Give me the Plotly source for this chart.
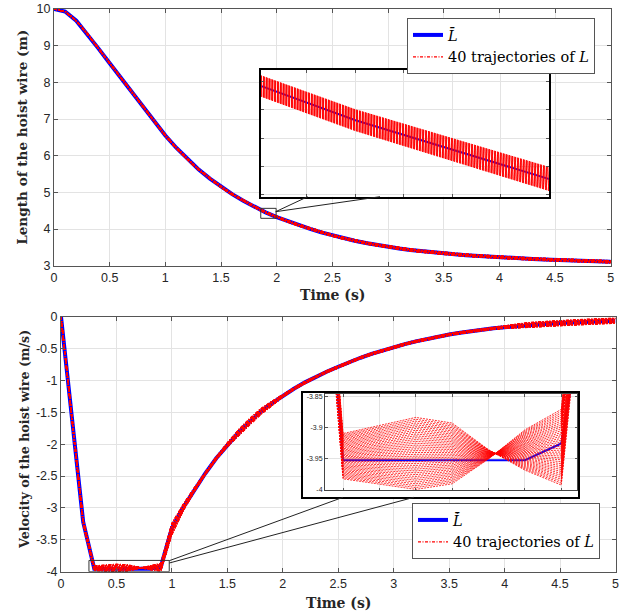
import numpy as np
import plotly.graph_objects as go

W, H = 638, 611

# ---------------- data ----------------
time_s = np.round(np.arange(51) * 0.1, 1)  # sampling instants 0 .. 5 s

# mean hoist-wire length  L-bar (m)
L_mean = [10.00, 9.93, 9.68, 9.32, 8.92, 8.52, 8.13, 7.73, 7.34, 6.94,
          6.55, 6.21, 5.90, 5.62, 5.375, 5.15, 4.95, 4.77, 4.61, 4.455,
          4.325, 4.21, 4.105, 4.005, 3.91, 3.825, 3.75, 3.68, 3.62, 3.565,
          3.515, 3.47, 3.43, 3.395, 3.363, 3.335, 3.31, 3.287, 3.266, 3.246,
          3.228, 3.212, 3.197, 3.183, 3.17, 3.158, 3.147, 3.136, 3.126, 3.117,
          3.108]
# half width of the band formed by the 40 trajectories of L (m)
L_spread = [0.0, 0.002, 0.004, 0.006, 0.008, 0.009, 0.010, 0.011, 0.012, 0.013,
            0.014, 0.0145, 0.015, 0.0155, 0.016, 0.0165, 0.017, 0.0172, 0.0175, 0.0185,
            0.021, 0.022, 0.023, 0.024, 0.025, 0.025, 0.026, 0.026, 0.027, 0.027,
            0.028, 0.028, 0.028, 0.029, 0.029, 0.029, 0.030, 0.030, 0.030, 0.030,
            0.030, 0.030, 0.030, 0.030, 0.030, 0.030, 0.030, 0.030, 0.030, 0.030,
            0.030]

# mean hoist-wire velocity  Ldot-bar (m/s)
Ldot_mean = [0.0, -1.62, -3.22, -3.952, -3.952, -3.952, -3.952, -3.952, -3.952, -3.925,
             -3.32, -3.00, -2.72, -2.46, -2.22, -2.01, -1.82, -1.65, -1.49, -1.36,
             -1.24, -1.13, -1.03, -0.94, -0.86, -0.785, -0.711, -0.644, -0.584, -0.529,
             -0.48, -0.431, -0.387, -0.348, -0.312, -0.28, -0.252, -0.226, -0.203, -0.182,
             -0.164, -0.148, -0.134, -0.121, -0.11, -0.10, -0.091, -0.083, -0.076, -0.069,
             -0.063]
# deviation of the first and of the last of the 40 velocity trajectories from the mean
Ldot_dev_first = ([0.0, 0.02, 0.03, 0.043, 0.056, 0.069, 0.060, 0.017, -0.016, -0.067,
                   -0.10, -0.05, -0.03, -0.02, -0.02, -0.03, -0.045, -0.05, -0.045, -0.03,
                   -0.02] + [-0.015] * 19 + [-0.02, -0.03] + [-0.04] * 9)
Ldot_dev_last = ([0.0, -0.02, -0.04, -0.030, -0.038, -0.047, -0.038, 0.002, 0.049, 0.055,
                  0.08, 0.05, 0.03, 0.02, 0.02, 0.03, 0.045, 0.05, 0.045, 0.03,
                  0.02] + [0.015] * 19 + [0.02, 0.03] + [0.04] * 9)
N_TRAJ = 40

x_tickvals = [0, 0.5, 1, 1.5, 2, 2.5, 3, 3.5, 4, 4.5, 5]
x_ticktext = ["0", "0.5", "1", "1.5", "2", "2.5", "3", "3.5", "4", "4.5", "5"]
L_tickvals = [3, 4, 5, 6, 7, 8, 9, 10]
L_ticktext = ["3", "4", "5", "6", "7", "8", "9", "10"]
Ldot_tickvals = [0, -0.5, -1, -1.5, -2, -2.5, -3, -3.5, -4]
Ldot_ticktext = ["0", "-0.5", "-1", "-1.5", "-2", "-2.5", "-3", "-3.5", "-4"]
inset_Ldot_tickvals = [-3.85, -3.9, -3.95, -4]
inset_Ldot_ticktext = ["-3.85", "-3.9", "-3.95", "-4"]
inset_t_tickvals = [0.3, 0.4, 0.5, 0.6, 0.7, 0.8, 0.9]

# zoom windows
TOP_RECT = dict(x0=1.857, x1=1.995, y0=4.292, y1=4.564)
BOT_RECT = dict(x0=0.252, x1=0.976, y0=-4.0, y1=-3.823)
TOP_INSET_X = [1.861, 1.980]
TOP_INSET_Y = [4.3196, 4.5438]
TOP_INSET_YTICK0 = 4.5231
TOP_INSET_SAMPLES = slice(18, 21)   # samples t = 1.8 .. 2.0 feed the upper inset
BOT_INSET_X = [0.2505, 0.944]
BOT_INSET_Y = [-4.0, -3.8457]

# ---------------- derived trajectories ----------------
t = np.asarray(time_s)
w = np.arange(N_TRAJ) / (N_TRAJ - 1)
Lm = np.asarray(L_mean)
Ls = np.asarray(L_spread)
L_trajs = [Lm + Ls * (2 * wk - 1) for wk in w]
Vm = np.asarray(Ldot_mean)
dA = np.asarray(Ldot_dev_first)
dB = np.asarray(Ldot_dev_last)
V_trajs = [Vm + dA + (dB - dA) * wk for wk in w]

# ---------------- styles / geometry (pixels) ----------------
BLUE = "#0000ff"
RED = "#ff0000"
AXIS_COLOR = "#555555"
GRID_COLOR = "#e3e3e3"
TICK_FONT = dict(family="Liberation Sans, Arial, sans-serif", size=12.5, color="#262626")
SERIF = "DejaVu Serif, serif"


def dom_x(a, b):
    return [a / W, b / W]


def dom_y(a, b):
    return [1 - b / H, 1 - a / H]


def px(xp, yp):
    return xp / W, 1 - yp / H


GEOM = dict(
    top=((54, 610.7), (9, 265.7)),
    bot=((61, 615.5), (316.7, 571.7)),
    inset_top=((261, 549), (70, 196.7)),
    inset_frame=((303.3, 578.3), (393.3, 497.3)),
    inset_bot=((325, 577.3), (394.3, 490)),
)

fig = go.Figure()


def add_group(xa, ya, tt, mean, trajs, mean_name, traj_name, legend, mean_w, traj_w, dash, show):
    fig.add_trace(go.Scatter(x=tt, y=mean, mode="lines", name=mean_name,
                             line=dict(color=BLUE, width=mean_w),
                             xaxis=xa, yaxis=ya, legend=legend, showlegend=show,
                             hoverinfo="skip"))
    for k, tr in enumerate(trajs):
        fig.add_trace(go.Scatter(x=tt, y=tr, mode="lines", name=traj_name,
                                 line=dict(color=RED, width=traj_w, dash=dash),
                                 xaxis=xa, yaxis=ya, legend=legend,
                                 showlegend=(show and k == 0), hoverinfo="skip"))


MAIN_DASH = "3px,1.5px,1px,1.5px"
add_group("x", "y", t, Lm, L_trajs, "<i>L\u0304</i>", "40 trajectories of <i>L</i>",
          "legend", 4, 1.3, MAIN_DASH, True)
add_group("x2", "y2", t, Vm, V_trajs, "<i>L\u0307\u0304</i>", "40 trajectories of <i>L\u0307</i>",
          "legend2", 4, 1.3, MAIN_DASH, True)
s = TOP_INSET_SAMPLES
add_group("x3", "y3", t[s], Lm[s], [tr[s] for tr in L_trajs], "", "", "legend",
          2, 1, "2px,1px", False)
# frame subplot for the lower inset (white box with black border)
fig.add_trace(go.Scatter(x=[None], y=[None], xaxis="x4", yaxis="y4", showlegend=False,
                         hoverinfo="skip"))
add_group("x5", "y5", t, Vm, V_trajs, "", "", "legend2", 2, 0.8, "2px,1px", False)


def main_axis(domain, rng, tickvals, ticktext, anchor):
    return dict(domain=domain, range=rng, anchor=anchor, tickmode="array",
                tickvals=tickvals, ticktext=ticktext, ticks="inside", ticklen=4,
                tickcolor=AXIS_COLOR, tickwidth=1, showline=True, linecolor=AXIS_COLOR,
                linewidth=1, mirror="ticks", showgrid=True, gridcolor=GRID_COLOR,
                gridwidth=1, zeroline=False, tickfont=TICK_FONT, fixedrange=True,
                automargin=False)


(tx, ty) = GEOM["top"]
(bx, by) = GEOM["bot"]
(itx, ity) = GEOM["inset_top"]
(ifx, ify) = GEOM["inset_frame"]
(ibx, iby) = GEOM["inset_bot"]

LEGEND_FONT = dict(family=SERIF, size=14.5, color="black")
layout = dict(
    width=W, height=H, margin=dict(l=0, r=0, t=0, b=0, pad=0, autoexpand=False),
    autosize=False,
    paper_bgcolor="white", plot_bgcolor="white", hovermode=False,
    xaxis=main_axis(dom_x(*tx), [0, 5], x_tickvals, x_ticktext, "y"),
    yaxis=main_axis(dom_y(*ty), [3, 10], L_tickvals, L_ticktext, "x"),
    xaxis2=main_axis(dom_x(*bx), [0, 5], x_tickvals, x_ticktext, "y2"),
    yaxis2=main_axis(dom_y(*by), [-4, 0], Ldot_tickvals, Ldot_ticktext, "x2"),
    xaxis3=dict(domain=dom_x(*itx), range=TOP_INSET_X, anchor="y3", dtick=0.02, tick0=0,
                ticks="inside", ticklen=3, tickcolor=AXIS_COLOR, showticklabels=False,
                showline=True, linecolor="black", linewidth=1.5, mirror="ticks",
                showgrid=True, gridcolor=GRID_COLOR, zeroline=False, fixedrange=True),
    yaxis3=dict(domain=dom_y(*ity), range=TOP_INSET_Y, anchor="x3", dtick=0.05,
                tick0=TOP_INSET_YTICK0, ticks="inside", ticklen=3, tickcolor=AXIS_COLOR,
                showticklabels=False, showline=True, linecolor="black", linewidth=1.5,
                mirror="ticks", showgrid=True, gridcolor=GRID_COLOR, zeroline=False,
                fixedrange=True),
    xaxis4=dict(domain=dom_x(*ifx), range=[0, 1], anchor="y4", showticklabels=False,
                ticks="", showgrid=False, zeroline=False, showline=True,
                linecolor="black", linewidth=1.5, mirror=True, fixedrange=True),
    yaxis4=dict(domain=dom_y(*ify), range=[0, 1], anchor="x4", showticklabels=False,
                ticks="", showgrid=False, zeroline=False, showline=True,
                linecolor="black", linewidth=1.5, mirror=True, fixedrange=True),
    xaxis5=dict(domain=dom_x(*ibx), range=BOT_INSET_X, anchor="y5", tickmode="array",
                tickvals=inset_t_tickvals, showticklabels=False, ticks="inside",
                ticklen=2.5, tickcolor=AXIS_COLOR, showline=True, linecolor="#444444",
                linewidth=1, mirror="ticks", showgrid=True, gridcolor=GRID_COLOR,
                zeroline=False, fixedrange=True),
    yaxis5=dict(domain=dom_y(*iby), range=BOT_INSET_Y, anchor="x5", tickmode="array",
                tickvals=inset_Ldot_tickvals, ticktext=inset_Ldot_ticktext,
                ticks="inside", ticklen=2.5, tickcolor=AXIS_COLOR, showline=True,
                linecolor="#444444", linewidth=1, mirror="ticks", showgrid=True,
                gridcolor=GRID_COLOR, zeroline=False, fixedrange=True,
                tickfont=dict(family="Liberation Sans, Arial, sans-serif", size=7,
                              color="#262626")),
    legend=dict(x=407 / W, y=1 - 18 / H, xanchor="left", yanchor="top",
                bgcolor="white", bordercolor=AXIS_COLOR, borderwidth=1,
                font=LEGEND_FONT, tracegroupgap=0),
    legend2=dict(x=412 / W, y=1 - 503 / H, xanchor="left", yanchor="top",
                 bgcolor="white", bordercolor=AXIS_COLOR, borderwidth=1,
                 font=LEGEND_FONT, tracegroupgap=0),
)

# axis titles
cx_top = (tx[0] + tx[1]) / 2
cy_top = (ty[0] + ty[1]) / 2
cx_bot = (bx[0] + bx[1]) / 2
annotations = [
    dict(text="<b>Time (s)</b>", x=cx_top / W, y=1 - 295 / H, font=dict(family=SERIF, size=14, color="#262626")),
    dict(text="<b>Length of the hoist wire (m)</b>", x=22.5 / W, y=1 - cy_top / H, textangle=-90,
         font=dict(family=SERIF, size=13.6, color="#262626")),
    dict(text="<b>Time (s)</b>", x=cx_bot / W, y=1 - 603 / H, font=dict(family=SERIF, size=14, color="#262626")),
    dict(text="<b>Velocity of the hoist wire (m/s)</b>", x=24 / W, y=1 - 440 / H, textangle=-90,
         font=dict(family=SERIF, size=12.7, color="#262626")),
]
for a in annotations:
    a.update(xref="paper", yref="paper", showarrow=False, xanchor="center", yanchor="middle")
layout["annotations"] = annotations

# zoom rectangles and connector lines
CONNECT = "#222222"
shapes = [
    dict(type="rect", xref="x", yref="y", line=dict(color="#333333", width=1), **TOP_RECT),
    dict(type="rect", xref="x2", yref="y2", line=dict(color="#333333", width=1), **BOT_RECT),
]
for (p0, p1) in [((275.7, 211.7), (307.7, 196.7)), ((275.7, 211.7), (380, 196.7)),
                 ((169.3, 560.7), (343, 497.3)), ((169.3, 563.0), (414, 497.3))]:
    x0, y0 = px(*p0)
    x1, y1 = px(*p1)
    shapes.append(dict(type="line", xref="paper", yref="paper", x0=x0, y0=y0, x1=x1, y1=y1,
                       line=dict(color=CONNECT, width=1)))
layout["shapes"] = shapes

fig.update_layout(**layout)
fig.write_html("out.html", config={"displayModeBar": False},
               post_script="document.body.style.margin='0';document.body.style.padding='0';")
